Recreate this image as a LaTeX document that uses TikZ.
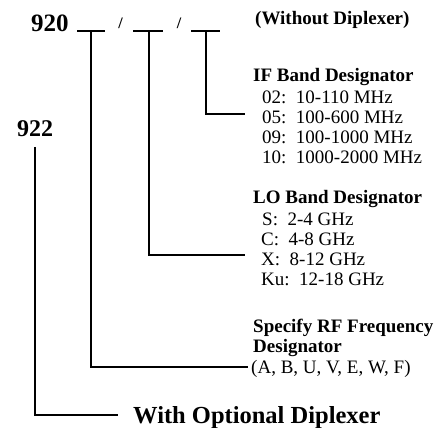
\documentclass[tikz,border=0pt]{standalone}
\usepackage{fontspec}
\setmainfont{Liberation Serif}
\begin{document}
\begin{tikzpicture}[x=1pt,y=-1pt,
  txt/.style={inner sep=0pt,anchor=base west,font=\fontsize{19}{19}\selectfont},
  hdr/.style={txt,font=\fontsize{19}{19}\selectfont\bfseries},
  big/.style={inner sep=0pt,font=\fontsize{25}{25}\selectfont\bfseries},
  slashtxt/.style={inner sep=0pt,font=\fontsize{16}{16}\selectfont\bfseries},
  wire/.style={line width=1.7pt,line cap=butt}]
\useasboundingbox (0,0) rectangle (435,427);
% part number
\node[big,anchor=base west] (n920) at (31,32) {920};
\node[slashtxt] (sl1) at (120.5,23) {/};
\node[slashtxt] (sl2) at (179,23) {/};
\coordinate (s1a) at (77,31); \coordinate (s1b) at (105,31); \coordinate (s1m) at (91,31);
\coordinate (s2a) at (133,31); \coordinate (s2b) at (163,31); \coordinate (s2m) at (149,31);
\coordinate (s3a) at (191,31); \coordinate (s3b) at (220,31); \coordinate (s3m) at (206,31);
\draw[wire] (s1a) -- (s1b);
\draw[wire] (s2a) -- (s2b);
\draw[wire] (s3a) -- (s3b);
\node[hdr] (wo) at (255,25) {(Without Diplexer)};
% IF block
\node[hdr] (ifh) at (253,82) {IF Band Designator};
\node[txt] (if1) at (262,104) {02:\ \ 10-110 MHz};
\node[txt] (if2) at (262,124) {05:\ \ 100-600 MHz};
\node[txt] (if3) at (262,144) {09:\ \ 100-1000 MHz};
\node[txt] (if4) at (262,164) {10:\ \ 1000-2000 MHz};
% LO block
\node[hdr] (loh) at (253,204) {LO Band Designator};
\node[txt] (lo1) at (262,225) {S:\ \ 2-4 GHz};
\node[txt] (lo2) at (261,245) {C:\ \ 4-8 GHz};
\node[txt] (lo3) at (261,265) {X:\ \ 8-12 GHz};
\node[txt] (lo4) at (261,285) {Ku:\ \ 12-18 GHz};
% RF block
\node[hdr] (rfh1) at (253,332) {Specify RF Frequency};
\node[hdr] (rfh2) at (253,352) {Designator};
\node[txt] (rf1) at (251,373) {(A, B, U, V, E, W, F)};
% connectors
\coordinate (ifend) at (245,114);
\coordinate (loend) at (245,255);
\coordinate (rfend) at (248,367);
\draw[wire] (s3m) |- (ifend);
\draw[wire] (s2m) |- (loend);
\draw[wire] (s1m) |- (rfend);
% 922 option
\node[inner sep=0pt,anchor=base,font=\fontsize{24}{24}\selectfont\bfseries] (n922) at (35,137) {922};
\coordinate (dtop) at (35,147);
\coordinate (dend) at (118,415);
\draw[wire] (dtop) |- (dend);
\node[inner sep=0pt,anchor=base west,font=\fontsize{24.5}{24.5}\selectfont\bfseries] (wd) at (133,423) {With Optional Diplexer};
\end{tikzpicture}
\end{document}
